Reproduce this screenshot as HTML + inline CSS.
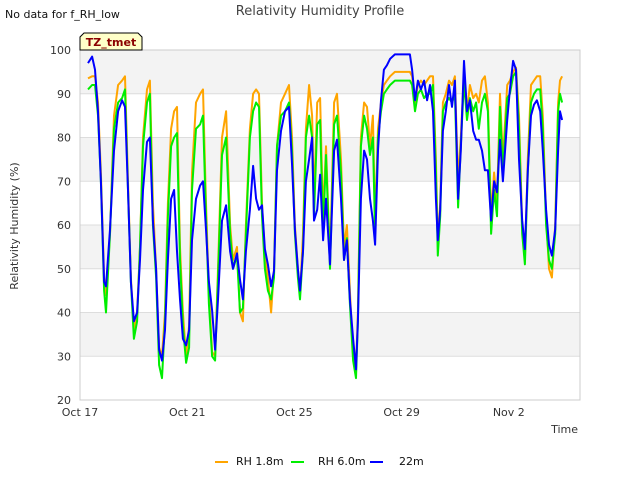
<!DOCTYPE html>
<html><head><meta charset="utf-8"><style>
body{margin:0;background:#fff;font-family:"Liberation Sans","DejaVu Sans",sans-serif;}
svg text{font-family:"DejaVu Sans","Liberation Sans",sans-serif;}
</style></head><body>
<svg id="chart" width="640" height="480" xmlns="http://www.w3.org/2000/svg">
<rect x="0" y="0" width="640" height="480" fill="#fff"/>
<text x="320" y="15" text-anchor="middle" font-size="13" fill="#444">Relativity Humidity Profile</text>
<text x="5" y="18" font-size="11" fill="#111">No data for f_RH_low</text>
<g id="bands"></g>
<g id="yticks"></g>
<g id="xticks"></g>
<rect x="80" y="50" width="500" height="350" fill="none" stroke="#ccc"/>
<g id="series"></g>
<g>
<path d="M80,50 L80,37 L84,33 L138,33 L142,37 L142,50 Z" fill="#ffffc8" stroke="#000" stroke-width="1"/>
<text x="111" y="46" text-anchor="middle" font-size="11" font-weight="bold" fill="#8b0000">TZ_tmet</text>
</g>
<text transform="translate(18,226) rotate(-90)" text-anchor="middle" font-size="11" fill="#333">Relativity Humidity (%)</text>
<text x="578" y="433" text-anchor="end" font-size="11" fill="#333">Time</text>
<g>
<line x1="215" y1="462" x2="228" y2="462" stroke="orange" stroke-width="2"/>
<text x="236" y="465" font-size="11" fill="#111">RH 1.8m</text>
<line x1="291" y1="462" x2="304" y2="462" stroke="#00ee00" stroke-width="2"/>
<text x="318" y="465" font-size="11" fill="#111">RH 6.0m</text>
<line x1="370" y1="462" x2="383" y2="462" stroke="#0000ff" stroke-width="2"/>
<text x="399" y="465" font-size="11" fill="#111">22m</text>
</g>
</svg>
<script>
const days=[0.30,0.45,0.56,0.67,0.78,0.90,0.97,1.12,1.27,1.42,1.57,1.68,1.79,1.90,2.01,2.13,2.24,2.35,2.50,2.61,2.72,2.84,2.95,3.06,3.17,3.28,3.40,3.51,3.62,3.73,3.84,3.96,4.07,4.18,4.33,4.48,4.59,4.70,4.81,4.93,5.04,5.15,5.30,5.45,5.60,5.71,5.86,5.97,6.08,6.19,6.34,6.46,6.57,6.68,6.79,6.90,7.01,7.13,7.24,7.35,7.50,7.65,7.80,7.91,8.02,8.13,8.21,8.32,8.43,8.55,8.66,8.73,8.85,8.96,9.07,9.18,9.33,9.48,9.59,9.74,9.85,9.96,10.07,10.19,10.30,10.37,10.48,10.60,10.71,10.82,10.93,11.01,11.12,11.23,11.34,11.45,11.57,11.75,12.31,12.39,12.50,12.61,12.72,12.84,12.95,13.06,13.17,13.28,13.35,13.44,13.54,13.65,13.77,13.88,13.99,14.11,14.21,14.33,14.44,14.55,14.67,14.78,14.88,15.00,15.11,15.22,15.34,15.45,15.56,15.67,15.78,15.94,16.04,16.16,16.27,16.38,16.50,16.60,16.71,16.83,16.94,17.05,17.17,17.27,17.39,17.50,17.61,17.73,17.84,17.91,17.99];
const rh22=[97,98.5,95.5,86,70,47,46,59,77,86,88.5,87,68,47,38,40,52,68,79,80,61,50,31.5,29,36,52,66,68,54,43,34,32.5,36,56.5,66,69,70,59,47,40.5,31.5,43,61,64.5,54,50,53.5,47.5,43,54,63.5,73.5,66,63.5,64.5,54.5,51,46,49.5,72.5,81.5,86,87,74,59,50,45,54,70,75,80,61,63.5,71.5,56.5,66,51,77,79.5,66,52,56.5,43,34,27,38,66,77,75,66,61,55.5,77,88.5,95.5,96.5,98,99,99,95.5,88.5,93,91,93,88.5,92,86,66,56.5,63.5,81.5,86,92,87,93,66,77,97.5,86,88.5,81.5,79.5,79.5,77,72.5,72.5,61,70,67.5,79.5,70,84,91,97.5,95.5,75,61,54.5,72.5,85,87.5,88.5,86,77,63.5,55.5,53,59,77,86,84];
const rh18=[93.5,94,94,88,72,48,44,58,85,92,93,94,70,48,36,40,55,80,91,93,65,50,32,30,40,65,82,86,87,55,40,30,37,72,88,90,91,65,45,31,30,50,80,86,60,52,55,40,38,60,82,90,91,90,65,53,48,40,50,78,88,90,92,80,60,50,44,58,82,92,85,65,88,89,62,78,52,88,90,75,55,60,45,30,27,40,80,88,87,78,85,60,82,88,92,93,94,95,95,94,88,92,93,92,93,94,94,75,56,65,88,90,93,92,94,70,80,95,86,92,89,90,88,93,94,88,62,72,65,90,75,92,93,95,96,85,60,52,75,92,93,94,94,85,62,50,48,60,88,93,94];
const rh60=[91,92,92,85,70,45,40,58,82,88,89,91,68,47,34,38,55,78,88,90,60,48,28,25,38,62,78,80,81,52,37,28.5,32,68,82,83,85,62,42,30,29,48,76,80,58,50,53,40,41,58,80,86,88,87,62,50,45,43,48,78,85,86,88,77,58,48,43,54,80,85,80,62,83,84,58,76,50,83,85,72,52,57,42,29,25,38,78,85,82,76,80,58,80,86,90,91,92,93,93,92,86,90,91,89,90,90,92,72,53,62,86,88,89,88,90,64,78,93,84,89,86,88,82,88,90,86,58,68,62,87,72,89,90,94,95,82,58,51,72,88,90,91,91,82,60,52,50,58,86,90,88];
const yTicks=[20,30,40,50,60,70,80,90,100];
const xTickLabels=["Oct 17","Oct 21","Oct 25","Oct 29","Nov 2"];
const xTickDays=[0,4,8,12,16];

const NS="http://www.w3.org/2000/svg";
const X=d=>80+d*26.8;
const Y=v=>400-(v-20)*4.375;
function mk(tag,attrs,parent){const e=document.createElementNS(NS,tag);for(const k in attrs)e.setAttribute(k,attrs[k]);parent.appendChild(e);return e;}
const bands=document.getElementById('bands'),yt=document.getElementById('yticks'),xt=document.getElementById('xticks'),ser=document.getElementById('series');
for(let i=0;i<yTicks.length-1;i++){
  const a=yTicks[i],b=yTicks[i+1];
  const r=mk('rect',{x:80,y:Y(b),width:500,height:Y(a)-Y(b),fill:(i%2===1)?'#f3f3f3':'#fff'},bands);
  
  
}
yTicks.forEach(v=>{
  const l=mk('line',{x1:80,x2:580,y1:Y(v),y2:Y(v),stroke:'#ddd'},yt);
  
  
  const t=mk('text',{x:71,y:Y(v)+4,'text-anchor':'end','font-size':'11',fill:'#333'},yt);
  t.textContent=v;
  
  
});
xTickDays.forEach((d,i)=>{
  const t=mk('text',{x:X(d),y:416,'text-anchor':'middle','font-size':'11',fill:'#333'},xt);
  t.textContent=xTickLabels[i];
  
  
});
function line(vals,color,name){
  const n=Math.min(days.length,vals.length);
  let d='';
  for(let i=0;i<n;i++)d+=(i?'L':'M')+X(days[i]).toFixed(1)+','+Y(vals[i]).toFixed(1);
  const p=mk('path',{d:d,fill:'none',stroke:color,'stroke-width':2,'stroke-linejoin':'round'},ser);
  
  
}
line(rh18,'orange','series-rh-1.8m');
line(rh60,'#00ee00','series-rh-6.0m');
line(rh22,'#0000ff','series-22m');
</script>
</body></html>
